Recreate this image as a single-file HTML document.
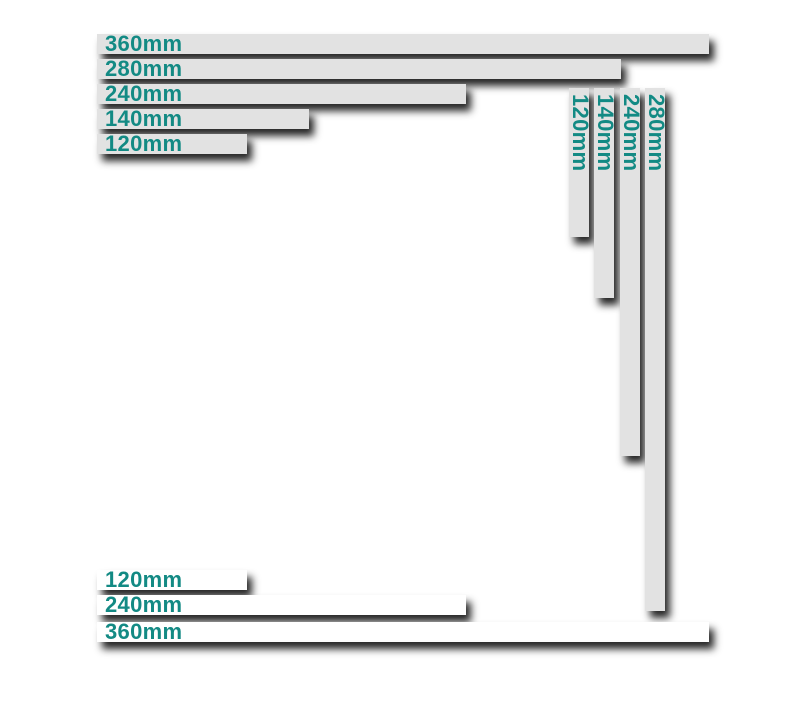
<!DOCTYPE html>
<html><head><style>
html,body{margin:0;padding:0;background:#fff;width:797px;height:702px;overflow:hidden;position:relative}
.b{position:absolute;background:#e2e2e2;box-shadow:5px 7px 8px rgba(0,0,0,0.85);font-family:"Liberation Sans",sans-serif;font-weight:bold;color:#138a84;font-size:22px;letter-spacing:0.3px;line-height:20px;box-sizing:border-box;padding-left:8px;white-space:nowrap}
.w{background:#fff}
.v{padding:0}
.v span{position:absolute;left:21px;top:6px;transform-origin:0 0;transform:rotate(90deg);line-height:20px}
</style></head><body>
<div class="b" style="left:97px;top:34px;width:612px;height:20px">360mm</div>
<div class="b" style="left:97px;top:59px;width:524px;height:20px">280mm</div>
<div class="b" style="left:97px;top:84px;width:369px;height:20px">240mm</div>
<div class="b" style="left:97px;top:109px;width:212px;height:20px">140mm</div>
<div class="b" style="left:97px;top:134px;width:150px;height:20px">120mm</div>

<div class="b v" style="left:569px;top:88px;width:20px;height:149px"><span>120mm</span></div>
<div class="b v" style="left:594px;top:88px;width:20px;height:210px"><span>140mm</span></div>
<div class="b v" style="left:620px;top:88px;width:20px;height:368px"><span>240mm</span></div>
<div class="b v" style="left:645px;top:88px;width:20px;height:523px"><span>280mm</span></div>

<div class="b w" style="left:97px;top:570px;width:150px;height:20px">120mm</div>
<div class="b w" style="left:97px;top:595px;width:369px;height:20px">240mm</div>
<div class="b w" style="left:97px;top:622px;width:612px;height:20px">360mm</div>
</body></html>
